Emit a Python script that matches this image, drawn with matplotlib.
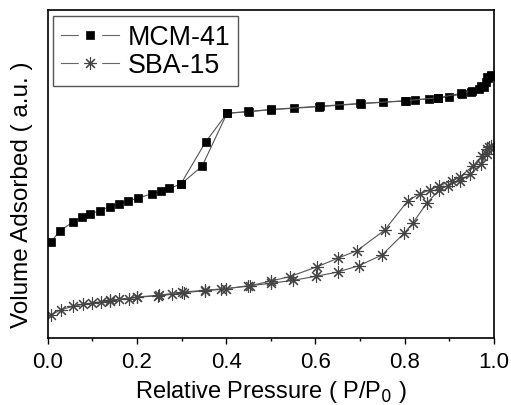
import matplotlib
matplotlib.use("Agg")
import matplotlib.pyplot as plt
from matplotlib.legend_handler import HandlerTuple
from matplotlib.lines import Line2D

# MCM-41 isotherm (adsorption then desorption branch)
mcm_ads_p = [0.008, 0.028, 0.058, 0.077, 0.096, 0.117, 0.139, 0.160, 0.180, 0.202,
             0.233, 0.253, 0.272, 0.298, 0.346, 0.402, 0.452, 0.501, 0.551, 0.607,
             0.653, 0.701, 0.751, 0.802, 0.823, 0.854, 0.875, 0.900, 0.927, 0.949,
             0.965, 0.977, 0.981, 0.986, 0.992]
mcm_ads_v = [96.3, 107.3, 116.3, 121.0, 124.3, 127.3, 131.3, 134.0, 136.7, 140.0,
             144.0, 146.7, 149.7, 153.7, 171.7, 224.7, 226.3, 228.3, 229.7, 231.3,
             232.7, 234.3, 235.7, 237.0, 238.0, 239.0, 240.0, 241.3, 244.0, 245.7,
             249.0, 250.7, 255.7, 259.7, 262.3]
mcm_des_p = [0.992, 0.985, 0.970, 0.950, 0.925, 0.875, 0.800, 0.700, 0.610, 0.500,
             0.450, 0.402, 0.354, 0.298]
mcm_des_v = [263.0, 260.5, 252.0, 247.0, 244.5, 240.3, 237.2, 234.5, 231.8, 228.5,
             226.5, 224.7, 196.0, 153.7]

# SBA-15 isotherm
sba_ads_p = [0.008, 0.030, 0.057, 0.080, 0.099, 0.120, 0.140, 0.161, 0.182, 0.201,
             0.247, 0.278, 0.306, 0.353, 0.388, 0.448, 0.500, 0.550, 0.601, 0.650,
             0.697, 0.749, 0.799, 0.818, 0.849, 0.877, 0.896, 0.923, 0.947, 0.971,
             0.983, 0.992]
sba_ads_v = [23.0, 28.3, 31.7, 33.7, 35.0, 36.3, 37.3, 38.7, 39.3, 40.7,
             42.3, 43.7, 45.3, 47.3, 48.7, 52.0, 54.7, 57.7, 61.7, 66.0,
             72.3, 83.0, 105.0, 115.0, 134.7, 148.0, 152.3, 157.3, 164.0, 174.0,
             184.0, 191.7]
sba_des_p = [0.988, 0.985, 0.973, 0.953, 0.923, 0.906, 0.877, 0.856, 0.833, 0.807,
             0.755, 0.693, 0.651, 0.604, 0.542, 0.500, 0.454, 0.400, 0.353, 0.300,
             0.250, 0.200, 0.140]
sba_des_v = [190.7, 189.0, 182.3, 172.3, 160.7, 157.3, 152.3, 148.0, 144.0, 137.3,
             108.0, 87.3, 80.0, 71.3, 61.3, 57.0, 52.3, 49.3, 47.8, 45.8,
             42.8, 41.0, 37.6]

plt.rcParams["font.family"] = ["Liberation Sans", "DejaVu Sans"]

fig = plt.figure(figsize=(5.11, 4.06), dpi=100)
ax = fig.add_axes([0.093, 0.165, 0.874, 0.808])

line_kw = dict(color="#555555", lw=0.8)
sq_kw = dict(marker="s", ms=6.2, mfc="black", mec="black", mew=0.5)
st_kw = dict(marker=(8, 2, 0), ms=9, mec="#444444", mew=0.8)

ax.plot(mcm_ads_p, mcm_ads_v, **line_kw, **sq_kw)
ax.plot(mcm_des_p, mcm_des_v, **line_kw, **sq_kw)
ax.plot(sba_ads_p, sba_ads_v, **line_kw, **st_kw)
ax.plot(sba_des_p, sba_des_v, **line_kw, **st_kw)

ax.set_xlim(0.0, 1.0)
ax.set_ylim(0, 328)
ax.set_xticks([0.0, 0.2, 0.4, 0.6, 0.8, 1.0])
ax.set_xticks([0.1, 0.3, 0.5, 0.7, 0.9], minor=True)
ax.set_yticks([])
ax.tick_params(axis="x", which="major", direction="out", length=4.5, width=1,
               labelsize=16, pad=4.5)
ax.tick_params(axis="x", which="minor", direction="out", length=2.5, width=1)
for sp in ax.spines.values():
    sp.set_linewidth(1.2)

ax.set_xlabel("Relative Pressure ( P/P$_0$ )", fontsize=17, labelpad=5)
ax.set_ylabel("Volume Adsorbed ( a.u. )", fontsize=17.5)
ax.yaxis.set_label_coords(-0.033, 0.44)

# legend handles: white marker underneath opens a gap in the line
gap = dict(color="#666666", lw=0.8, marker="s", ms=16, mfc="white", mec="white")
h_mcm = (Line2D([], [], **gap), Line2D([], [], ls="none", **sq_kw))
h_sba = (Line2D([], [], **gap), Line2D([], [], ls="none", **st_kw))
leg = ax.legend([h_mcm, h_sba], ["MCM-41", "SBA-15"],
                handler_map={tuple: HandlerTuple(ndivide=1)},
                loc="upper left", bbox_to_anchor=(0.012, 0.982),
                fontsize=19.3, handlelength=2.16, handletextpad=0.33,
                borderpad=0.3, labelspacing=0.08, borderaxespad=0.0,
                fancybox=False, framealpha=1, edgecolor="#555555")
leg.get_frame().set_linewidth(1.0)

fig.savefig("out.png", dpi=100)
